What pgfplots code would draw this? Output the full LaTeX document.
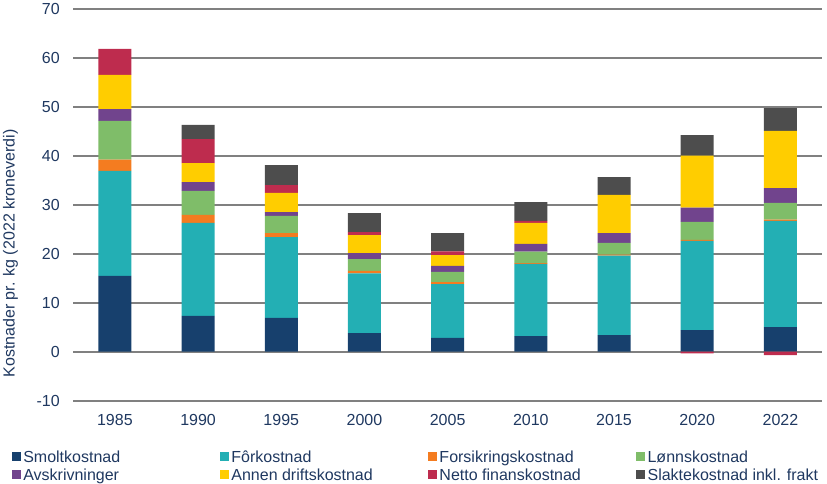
\documentclass[border=0pt]{standalone}
\usepackage{pgfplots}
\usepackage{pgfplotstable}
\pgfplotsset{compat=1.18}
\usepackage{fontspec}
\setmainfont{Liberation Sans}
\definecolor{textc}{RGB}{31,56,96}
\definecolor{cSmolt}{RGB}{23,64,109}
\definecolor{cFor}{RGB}{35,175,180}
\definecolor{cFors}{RGB}{244,124,32}
\definecolor{cLonn}{RGB}{127,189,105}
\definecolor{cAvskr}{RGB}{113,68,141}
\definecolor{cAnnen}{RGB}{255,205,0}
\definecolor{cNetto}{RGB}{190,44,78}
\definecolor{cSlakte}{RGB}{77,77,77}
\definecolor{gridc}{RGB}{128,128,128}

\pgfplotstableread{
idx smolt for fors lonn avskr annen netto slakte
0 15.45 21.45 2.3 7.9 2.4 7.0 5.3 0
1 7.3 19.0 1.6 4.9 1.8 3.9 4.9 2.9
2 6.9 16.5 0.8 3.5 0.8 3.9 1.6 4.1
3 3.8 12.2 0.5 2.4 1.2 3.7 0.6 3.9
4 2.8 11.0 0.4 2.1 1.2 2.2 0.8 3.7
5 3.2 14.7 0.2 2.3 1.6 4.3 0.4 3.85
6 3.4 16.2 0.2 2.4 2.0 7.8 0 3.65
7 4.4 18.2 0.2 3.7 2.9 10.6 0 4.2
8 5.0 21.7 0.25 3.4 3.05 11.65 0 4.65
}\data

\pgfplotstableread{
idx netto
7 -0.35
8 -0.7
}\neg

\newcommand{\lt}[1]{\makebox[196.5pt][l]{#1}}

\begin{document}
\begin{tikzpicture}[font=\fontsize{16}{19}\selectfont]
\useasboundingbox (-73.3pt,-83.3pt) rectangle (753.7pt,400.7pt);
\pgfplotsset{
  base/.style={
    scale only axis,
    width=748.7pt, height=392pt,
    xmin=-0.5, xmax=8.5,
    ymin=-10, ymax=70,
    bar width=33pt,
  }
}
\begin{axis}[
  base,
  ybar stacked,
  axis line style={draw=none},
  major tick length=0pt,
  ymajorgrids,
  grid style={gridc, line width=1.8pt},
  ytick={-10,0,10,20,30,40,50,60,70},
  yticklabels={-10,0,10,20,30,40,50,60,70},
  xtick={0,1,2,3,4,5,6,7,8},
  xticklabels={1985,1990,1995,2000,2005,2010,2015,2020,2022},
  tick label style={text=textc},
  yticklabel style={xshift=-10pt},
  xticklabel style={yshift=-9.6pt},
  ylabel={Kostnader pr. kg (2022 kroneverdi)},
  ylabel style={at={(axis description cs:0,0.3755)}, anchor=center, yshift=62.8pt, text=textc},
  legend columns=4,
  legend style={draw=none, fill=none, inner sep=0pt, outer sep=0pt,
    at={(0,0)}, anchor=north west, xshift=-61.6pt, yshift=-49.3pt,
    nodes={inner sep=0pt, text=textc, text height=12pt, text depth=4pt, anchor=base west},
    row sep=2pt,
    /tikz/every odd column/.append style={column sep=2.6pt},
  },
  legend cell align=left,
  legend image code/.code={\path[#1,draw=none] (0pt,1.2pt) rectangle (9pt,10.2pt);},
]
\addplot[fill=cSmolt, draw=none] table[x=idx,y=smolt]{\data};
\addplot[fill=cFor, draw=none] table[x=idx,y=for]{\data};
\addplot[fill=cFors, draw=none] table[x=idx,y=fors]{\data};
\addplot[fill=cLonn, draw=none] table[x=idx,y=lonn]{\data};
\addplot[fill=cAvskr, draw=none] table[x=idx,y=avskr]{\data};
\addplot[fill=cAnnen, draw=none] table[x=idx,y=annen]{\data};
\addplot[fill=cNetto, draw=none] table[x=idx,y=netto]{\data};
\addplot[fill=cSlakte, draw=none] table[x=idx,y=slakte]{\data};
\legend{\lt{Smoltkostnad},\lt{Fôrkostnad},\lt{Forsikringskostnad},\lt{Lønnskostnad},\lt{Avskrivninger},\lt{Annen driftskostnad},\lt{Netto finanskostnad},{Slaktekostnad inkl. frakt}}
\end{axis}
\begin{axis}[base, ybar, hide axis]
\addplot[fill=cNetto, draw=none] table[x=idx,y=netto]{\neg};
\end{axis}
\end{tikzpicture}
\end{document}
